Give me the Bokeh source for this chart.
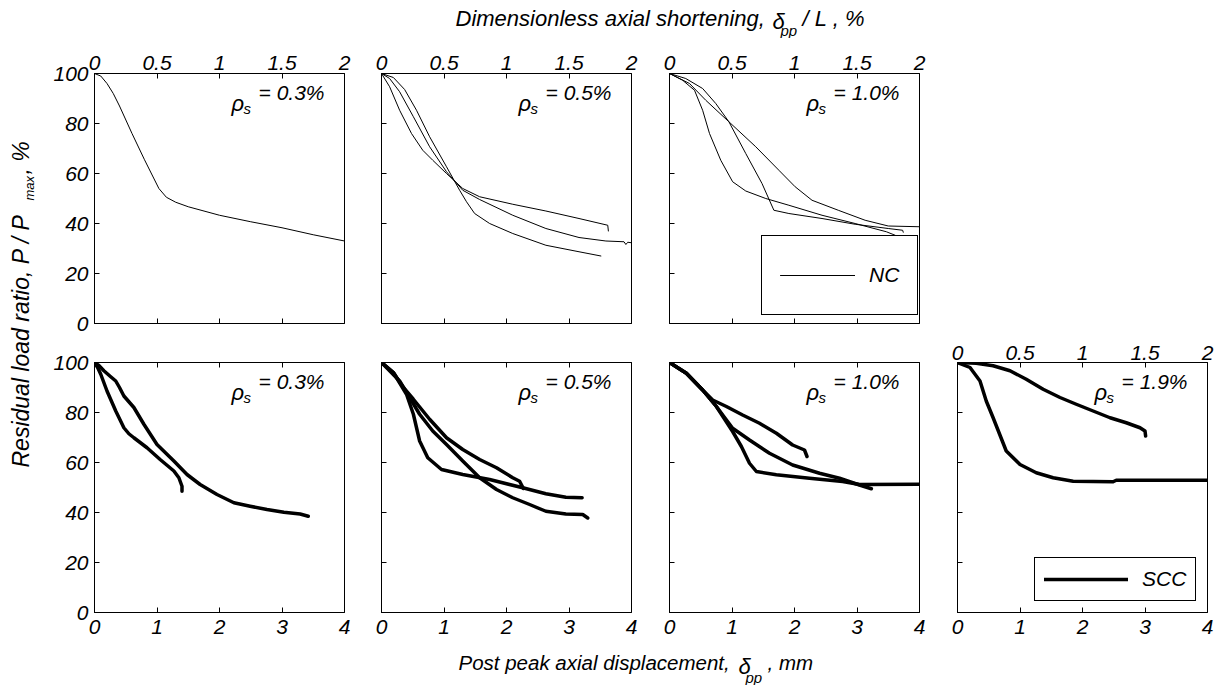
from bokeh.plotting import figure
from bokeh.models import (Range1d, LinearAxis, FixedTicker, Label, Legend,
                          LegendItem, CustomJSTickFormatter, CustomLabelingPolicy)
from bokeh.layouts import row, column
from bokeh.embed import file_html
from bokeh.resources import INLINE

FONT = "Liberation Sans"

# ---- axes ----
x_mm_ticks = [0, 1, 2, 3, 4]
x_pct_ticks = [0, 0.5, 1, 1.5, 2]
x_pct_labels = ["0", "0.5", "1", "1.5", "2"]
y_ticks = [0, 20, 40, 60, 80, 100]

# ---- NC specimens (post-peak displacement in mm, residual load ratio in %) ----
nc03_x = [0, 0.1, 0.2, 0.3, 0.4, 0.6, 0.8, 1.03, 1.15, 1.3, 1.5, 2.0, 2.5, 3.0, 3.5, 4.0]
nc03_y = [100, 99, 96, 92, 87, 76, 65.5, 54, 50.5, 48.5, 46.7, 43.3, 40.7, 38.3, 35.5, 33]

nc05a_x = [0, 0.13, 0.29, 0.48, 0.66, 0.82, 1.04, 1.30, 1.57, 2.10, 2.63, 3.16, 3.62, 3.63]
nc05a_y = [100, 94.7, 85.3, 76, 69.3, 65.3, 60, 54, 50.7, 47.7, 45, 42, 39.3, 37]
nc05b_x = [0, 0.19, 0.37, 0.56, 0.77, 1.04, 1.25, 1.36, 1.49, 1.73, 2.10, 2.63, 3.16, 3.51]
nc05b_y = [100, 98.4, 93.6, 85.3, 74.7, 62.7, 53.3, 48.7, 44, 40, 36, 31.3, 28.7, 27]
nc05c_x = [0, 0.13, 0.29, 0.51, 0.77, 1.04, 1.30, 1.57, 2.10, 2.63, 3.16, 3.59, 3.88, 3.91, 3.94, 4.0]
nc05c_y = [100, 98, 92.7, 82.7, 70.7, 60.7, 53.3, 49.6, 43.3, 38, 34.4, 33, 32.7, 31.6, 32.5, 32.3]

nc10a_x = [0, 0.21, 0.40, 0.53, 0.64, 0.82, 1.01, 1.22, 1.54, 1.91, 2.44, 2.97, 3.47, 3.61]
nc10a_y = [100, 97.3, 93.3, 85.3, 76, 65.3, 56.7, 53, 50, 47.3, 43.3, 40, 36.7, 35.3]
nc10b_x = [0, 0.26, 0.53, 0.74, 0.95, 1.22, 1.48, 1.67, 1.91, 2.44, 2.97, 3.50, 3.73, 3.74]
nc10b_y = [100, 98, 94, 88, 80.7, 68, 56, 45.3, 44, 42, 39.7, 38, 37.3, 36.5]
nc10c_x = [0, 0.32, 0.58, 0.95, 1.38, 1.75, 2.01, 2.28, 2.70, 3.13, 3.50, 4.0]
nc10c_y = [100, 96, 89.3, 80.7, 70.7, 61.3, 54.7, 49.3, 45.3, 41.3, 39, 38.7]

# ---- SCC specimens ----
scc03a_x = [0, 0.05, 0.10, 0.20, 0.34, 0.47, 0.55, 0.63, 0.84, 1.05, 1.27, 1.35, 1.40, 1.40]
scc03a_y = [100, 98, 95.3, 88.6, 80.6, 73.9, 71.5, 69.9, 65.9, 61.2, 56.6, 53.9, 50.5, 48.5]
scc03b_x = [0, 0.07, 0.15, 0.25, 0.34, 0.40, 0.47, 0.55, 0.63, 0.79, 1.00, 1.27, 1.48, 1.69,
            1.96, 2.23, 2.49, 2.76, 3.03, 3.29, 3.42]
scc03b_y = [100, 98.8, 96.7, 94.5, 92.6, 90, 86.6, 84.3, 82, 75.3, 67.2, 60.6, 55.2, 51.2,
            47.2, 43.9, 42.5, 41.2, 40.1, 39.4, 38.5]

scc05a_x = [0, 0.19, 0.35, 0.51, 0.77, 1.04, 1.30, 1.57, 1.84, 2.10, 2.21, 2.27]
scc05a_y = [100, 96, 90, 85.3, 77.3, 69.9, 65.2, 61.2, 57.9, 53.9, 52.5, 49.6]
scc05b_x = [0, 0.19, 0.40, 0.51, 0.61, 0.74, 0.96, 1.30, 1.73, 2.26, 2.63, 2.95, 3.21]
scc05b_y = [100, 96, 87.3, 79.3, 68.6, 61.9, 57.2, 55.2, 53.2, 49.9, 47.5, 46.1, 45.9]
scc05c_x = [0, 0.29, 0.45, 0.61, 0.82, 1.04, 1.30, 1.57, 1.84, 2.10, 2.37, 2.63, 2.95, 3.22, 3.30]
scc05c_y = [100, 92.6, 86, 79.3, 72.6, 67.2, 60.6, 53.9, 49.2, 45.9, 43.2, 40.5, 39.4, 39.2, 37.8]

scc10a_x = [0, 0.27, 0.53, 0.69, 0.91, 1.17, 1.44, 1.71, 1.97, 2.16, 2.20]
scc10a_y = [100, 95.7, 89, 85, 82.4, 79, 75.7, 71.7, 67, 65, 62.4]
scc10b_x = [0, 0.27, 0.53, 0.75, 1.01, 1.28, 1.60, 1.97, 2.40, 2.72, 3.04, 3.23]
scc10b_y = [100, 95.7, 89, 82.4, 73.7, 69, 63.7, 59, 55.7, 53.7, 51, 49.5]
scc10c_x = [0, 0.27, 0.53, 0.75, 1.01, 1.15, 1.28, 1.39, 1.71, 2.24, 2.77, 3.04, 4.0]
scc10c_y = [100, 95.7, 89, 82.4, 72.4, 66.4, 59.7, 56.4, 55.1, 53.7, 52.4, 51.2, 51.3]

scc19a_x = [0, 0.30, 0.57, 0.84, 1.10, 1.37, 1.64, 1.90, 2.17, 2.44, 2.70, 2.92, 3.0, 3.01]
scc19a_y = [100, 99.7, 98.7, 96.7, 93.3, 89.3, 86, 83.3, 80.6, 77.9, 75.9, 73.9, 72.6, 70.6]
scc19b_x = [0, 0.20, 0.36, 0.46, 0.57, 0.78, 1.0, 1.26, 1.53, 1.85, 2.49, 2.54, 4.0]
scc19b_y = [100, 98, 92.6, 84.6, 77.9, 64.6, 59.2, 55.9, 53.9, 52.5, 52.3, 52.9, 52.9]

rho_labels = ["= 0.3%", "= 0.5%", "= 1.0%", "= 1.9%"]

NC_WIDTH = 1
SCC_WIDTH = 3.5

# frame placement for each column: (left border, right border)
COL_BORDERS = [(54, 8), (29, 8), (30, 8), (30, 12)]
# (top border, bottom border) for each row
ROW_BORDERS = {True: (35, 12), False: (27, 34)}

# labelling policy that keeps no tick labels (ticks only)
NO_LABELS = CustomLabelingPolicy(code="""
    const ids = Array.from(indices)
    for (const i of ids) indices.unset(i)
    return indices
""")


def text_style(size="21px"):
    return dict(text_font=FONT, text_font_style="italic", text_font_size=size,
                text_color="black", text_baseline="alphabetic")


def style_axis(ax, ticks, show_labels, standoff):
    ax.ticker = FixedTicker(ticks=ticks)
    ax.axis_line_color = "black"
    ax.major_tick_line_color = "black"
    ax.major_tick_in = 5
    ax.major_tick_out = 0
    ax.minor_tick_line_color = None
    ax.major_label_text_font = FONT
    ax.major_label_text_font_style = "italic"
    ax.major_label_text_color = "black"
    if show_labels:
        ax.major_label_text_font_size = "21px"
        ax.major_label_standoff = standoff
    else:
        ax.formatter = CustomJSTickFormatter(code="return ''")
        ax.major_label_policy = NO_LABELS
        ax.major_label_text_font_size = "0px"
        ax.major_label_standoff = 0


def make_panel(col, top_row, curves, width, rho_text, legend=None):
    bl, br = COL_BORDERS[col]
    bt, bb = ROW_BORDERS[top_row]
    p = figure(frame_width=250, frame_height=250,
               x_range=Range1d(0, 4), y_range=Range1d(0, 100),
               x_axis_location=None, y_axis_location=None,
               min_border_left=bl, min_border_right=br,
               min_border_top=bt, min_border_bottom=bb,
               output_backend="svg", toolbar_location=None,
               background_fill_color="white", border_fill_color="white",
               outline_line_color="black", outline_line_width=1)
    p.extra_x_ranges = {"pct": Range1d(0, 2)}

    ya = LinearAxis()
    style_axis(ya, y_ticks, col == 0, 6)
    p.add_layout(ya, "left")

    xb = LinearAxis()
    style_axis(xb, x_mm_ticks, not top_row, 7)
    p.add_layout(xb, "below")

    xt = LinearAxis(x_range_name="pct")
    style_axis(xt, x_pct_ticks, top_row or col == 3, 4 if top_row else 3)
    if top_row or col == 3:
        xt.major_label_overrides = dict(zip(x_pct_ticks, x_pct_labels))
    p.add_layout(xt, "above")

    renderers = []
    for xs, ys in curves:
        r = p.line(xs, ys, line_color="black", line_width=width,
                   line_join="round", line_cap="round")
        renderers.append(r)

    # reinforcement ratio annotation
    p.add_layout(Label(x=137, y=220, x_units="screen", y_units="screen",
                       text="ρ", **text_style("22px")))
    p.add_layout(Label(x=149, y=215, x_units="screen", y_units="screen",
                       text="s", **text_style("15px")))
    p.add_layout(Label(x=230, y=231, x_units="screen", y_units="screen",
                       text=rho_text, text_align="right", **text_style("21px")))

    if legend is not None:
        name, loc, pad, gw, gh, standoff = legend
        leg = Legend(items=[LegendItem(label=name, renderers=[renderers[0]])],
                     location=loc, margin=0, padding=pad, spacing=0,
                     glyph_width=gw, glyph_height=gh, label_height=gh,
                     label_standoff=standoff,
                     label_text_font=FONT, label_text_font_style="italic",
                     label_text_font_size="21px", label_text_color="black",
                     border_line_color="black", border_line_width=1,
                     border_line_alpha=1,
                     background_fill_color="white", background_fill_alpha=1)
        p.add_layout(leg)

    p.xgrid.visible = False
    p.ygrid.visible = False
    return p


def text_fig(w, h):
    f = figure(width=w, height=h, x_range=Range1d(0, 1), y_range=Range1d(0, 1),
               x_axis_location=None, y_axis_location=None, min_border=0,
               output_backend="svg", toolbar_location=None,
               outline_line_color=None, background_fill_color="white",
               border_fill_color="white")
    f.xgrid.visible = False
    f.ygrid.visible = False
    return f


# ---- top row: normal concrete ----
p1 = make_panel(0, True, [(nc03_x, nc03_y)], NC_WIDTH, rho_labels[0])
p2 = make_panel(1, True, [(nc05a_x, nc05a_y), (nc05b_x, nc05b_y), (nc05c_x, nc05c_y)],
                NC_WIDTH, rho_labels[1])
p3 = make_panel(2, True, [(nc10a_x, nc10a_y), (nc10b_x, nc10b_y), (nc10c_x, nc10c_y)],
                NC_WIDTH, rho_labels[2], legend=("NC", (92, 8), 18, 75, 42, 14))

# ---- bottom row: self-compacting concrete ----
q1 = make_panel(0, False, [(scc03a_x, scc03a_y), (scc03b_x, scc03b_y)], SCC_WIDTH, rho_labels[0])
q2 = make_panel(1, False, [(scc05a_x, scc05a_y), (scc05b_x, scc05b_y), (scc05c_x, scc05c_y)],
                SCC_WIDTH, rho_labels[1])
q3 = make_panel(2, False, [(scc10a_x, scc10a_y), (scc10b_x, scc10b_y), (scc10c_x, scc10c_y)],
                SCC_WIDTH, rho_labels[2])
q4 = make_panel(3, False, [(scc19a_x, scc19a_y), (scc19b_x, scc19b_y)], SCC_WIDTH,
                rho_labels[3], legend=("SCC", (77, 11), 9, 84, 24, 14))

# ---- shared axis titles ----
top_title = text_fig(1219, 38)
top_title.add_layout(Label(x=455, y=20, x_units="screen", y_units="screen",
                           text="Dimensionless axial shortening,", **text_style("22px")))
top_title.add_layout(Label(x=772, y=17, x_units="screen", y_units="screen",
                           text="δ", **text_style("22px")))
top_title.add_layout(Label(x=780, y=8, x_units="screen", y_units="screen",
                           text="pp", **text_style("15px")))
top_title.add_layout(Label(x=802, y=20, x_units="screen", y_units="screen",
                           text="/ L , %", **text_style("22px")))

y_title = text_fig(40, 608)
y_title.add_layout(Label(x=20, y=179, x_units="screen", y_units="screen", angle=90,
                         angle_units="deg", text="Residual load ratio, P / P",
                         **text_style("23px")))
y_title.add_layout(Label(x=29, y=446, x_units="screen", y_units="screen", angle=90,
                         angle_units="deg", text="max", **text_style("13px")))
y_title.add_layout(Label(x=20, y=472, x_units="screen", y_units="screen", angle=90,
                         angle_units="deg", text=" , %", **text_style("23px")))

bottom_title = text_fig(1219, 39)
bottom_title.add_layout(Label(x=458, y=23, x_units="screen", y_units="screen",
                              text="Post peak axial displacement,", **text_style("20.5px")))
bottom_title.add_layout(Label(x=738, y=19, x_units="screen", y_units="screen",
                              text="δ", **text_style("22px")))
bottom_title.add_layout(Label(x=745, y=8, x_units="screen", y_units="screen",
                              text="pp", **text_style("15px")))
bottom_title.add_layout(Label(x=767, y=23, x_units="screen", y_units="screen",
                              text=", mm", **text_style("20.5px")))

grid = column(row(p1, p2, p3), row(q1, q2, q3, q4))
page = column(top_title, row(y_title, grid), bottom_title)

open("out.html", "w").write(file_html(page, INLINE))
